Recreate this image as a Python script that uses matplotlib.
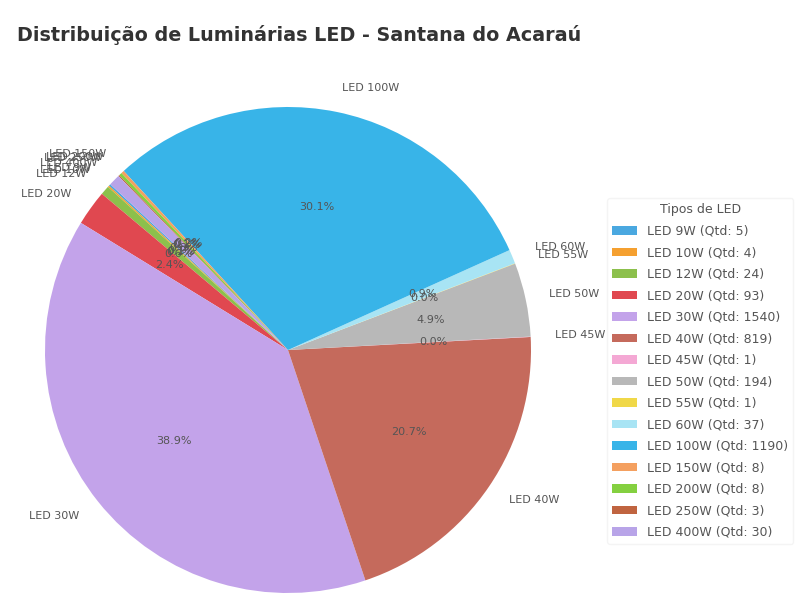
import numpy as np
import matplotlib
matplotlib.use("Agg")
import matplotlib.pyplot as plt

# data
tipos = ["LED 9W", "LED 10W", "LED 12W", "LED 20W", "LED 30W", "LED 40W",
         "LED 45W", "LED 50W", "LED 55W", "LED 60W", "LED 100W", "LED 150W",
         "LED 200W", "LED 250W", "LED 400W"]
qtd = [5, 4, 24, 93, 1540, 819, 1, 194, 1, 37, 1190, 8, 8, 3, 30]
cores = ["#4aa8e0", "#f5a030", "#8cc04c", "#e04850", "#c3a3ea", "#c56a5c",
         "#f4a8d4", "#b8b8b8", "#f0d848", "#a8e4f4", "#38b4e8", "#f4a060",
         "#84d040", "#c06440", "#b8a4e8"]

W, H = 799, 596
fig = plt.figure(figsize=(W / 100, H / 100), dpi=100)

# pie centre / radius in pixels (from top-left)
cx, cy, r = 288, 350, 243
side = 2.5 * r
ax = fig.add_axes([(cx - side / 2) / W, (H - cy - side / 2) / H, side / W, side / H])

wedges, texts, autotexts = ax.pie(
    qtd, labels=tipos, colors=cores, startangle=137, autopct="%1.1f%%",
    textprops={"fontsize": 8, "color": "#555555"})
ax.set_xlim(-1.25, 1.25)
ax.set_ylim(-1.25, 1.25)
ax.set_aspect("equal")

fig.text(299 / W, 1 - 35 / H, "Distribuição de Luminárias LED - Santana do Acaraú",
         ha="center", va="center", fontsize=13.8, fontweight="bold", color="#333333")

leg_labels = [f"{t} (Qtd: {q})" for t, q in zip(tipos, qtd)]
leg = fig.legend(wedges, leg_labels, title="Tipos de LED", loc="upper left",
                 bbox_to_anchor=(601 / W, 1 - 192 / H), fontsize=9,
                 title_fontsize=9, frameon=True, labelspacing=0.68)
leg.get_frame().set_edgecolor("#f2f2f2")
for t in leg.get_texts():
    t.set_color("#555555")
leg.get_title().set_color("#555555")

fig.savefig("out.png", dpi=100)
